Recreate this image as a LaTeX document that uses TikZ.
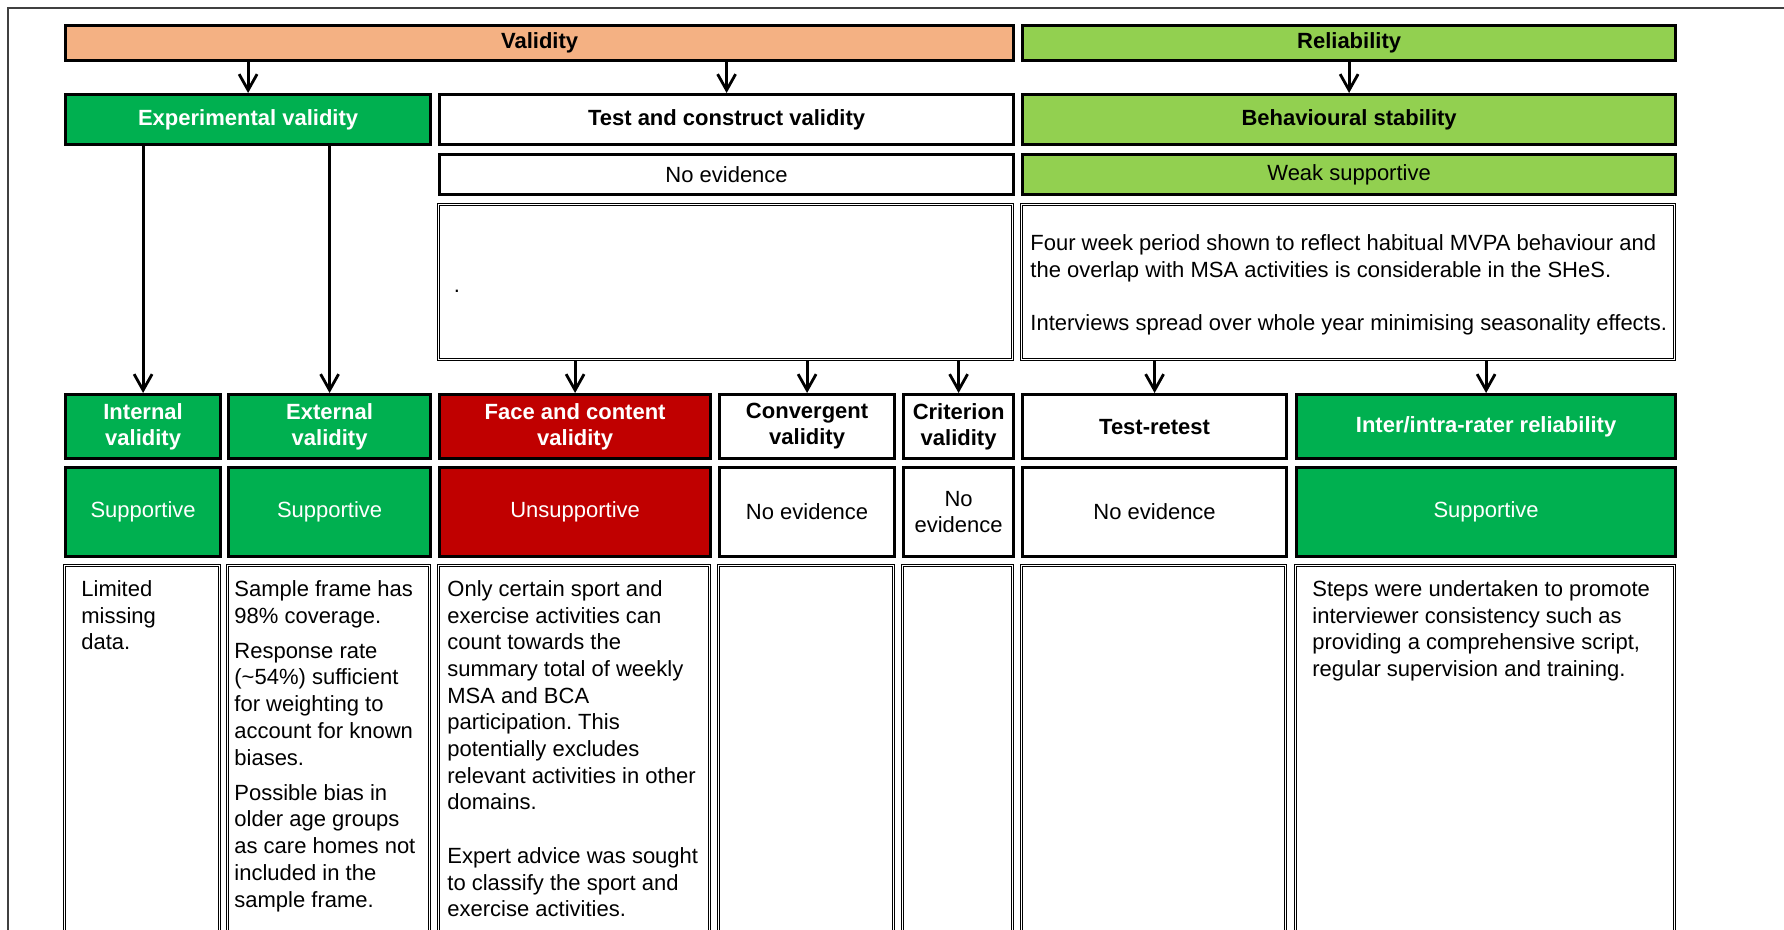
\documentclass[tikz,border=0pt]{standalone}
\usepackage{fontspec}
\setmainfont{Liberation Sans}
\usetikzlibrary{arrows.meta}
\frenchspacing

\definecolor{valorange}{HTML}{F4B183}
\definecolor{limegreen}{HTML}{92D050}
\definecolor{darkgreen}{HTML}{00B050}
\definecolor{darkred}{HTML}{C00000}
\definecolor{framegrey}{HTML}{404040}

\newcommand\bodyfont{\fontsize{11}{13.35}\selectfont}
\newcommand\headfont{\fontsize{11}{13}\selectfont\bfseries}

% name, style, left, top, right, bottom (in px units), text
\newcommand\gridcell[7]{%
  \pgfmathsetmacro\cellw{(#5-#3)/2}%
  \pgfmathsetmacro\cellh{(#6-#4)/2}%
  \node[#2, minimum width=\cellw pt, minimum height=\cellh pt, anchor=north west] (#1) at (#3,#4) {#7};%
}

\begin{document}
\begin{tikzpicture}[x=0.5pt, y=-0.5pt,
  cellbox/.style={draw=black, line width=1.6pt, inner sep=0pt, align=center, font=\bodyfont},
  headcell/.style={cellbox, font=\headfont},
  notebox/.style={draw=black, line width=0.55pt, double=white, double distance=0.45pt, inner sep=0pt},
  greencell/.style={fill=darkgreen, text=white},
  redcell/.style={fill=darkred, text=white},
  limecell/.style={fill=limegreen},
  orangecell/.style={fill=valorange},
  whitecell/.style={fill=white},
  notetext/.style={inner sep=0pt, align=left, font=\bodyfont, anchor=north west},
  arr/.style={line width=1.4pt, -{Straight Barb[length=8pt, width=9pt]}}
]
\useasboundingbox (0,0) rectangle (1784,930);
\clip (0,0) rectangle (1784,930);
\fill[white] (0,0) rectangle (1784,930);

% outer frame
\draw[framegrey, line width=0.6pt] (8,940) -- (8,8) -- (1800,8);

% top categories
\gridcell{val}{headcell, orangecell}{64}{24}{1012}{59}{Validity}
\gridcell{rel}{headcell, limecell}{1021}{24}{1674}{59}{Reliability}

% second level
\gridcell{exp}{headcell, greencell}{64}{93}{429}{143}{Experimental validity}
\gridcell{tcv}{headcell, whitecell}{438}{93}{1012}{143}{Test and construct validity}
\gridcell{beh}{headcell, limecell}{1021}{93}{1674}{143}{Behavioural stability}

% second level ratings
\gridcell{tcvev}{cellbox, whitecell}{438}{153}{1012}{193}{No evidence}
\gridcell{behev}{cellbox, limecell}{1021}{153}{1674}{193}{Weak supportive}

% second level notes
\gridcell{tcvnote}{notebox}{438}{204}{1012}{359}{}
\gridcell{behnote}{notebox}{1021}{204}{1674}{359}{}
\node[inner sep=0pt, font=\bodyfont] (tcvdot) at (457,291) {.};
\node[notetext, anchor=west] (behnotetxt) at ([xshift=4.5pt,yshift=-1.5pt]behnote.west)
  {Four week period shown to reflect habitual MVPA behaviour and\\
   the overlap with MSA activities is considerable in the SHeS.\\[13.35pt]
   Interviews spread over whole year minimising seasonality effects.};

% third level headers
\gridcell{int}{headcell, greencell}{64}{393}{219}{457}{Internal\\validity}
\gridcell{ext}{headcell, greencell}{227}{393}{429}{457}{External\\validity}
\gridcell{face}{headcell, redcell}{438}{393}{709}{457}{Face and content\\validity}
\gridcell{conv}{headcell, whitecell}{718}{393}{893}{457}{Convergent\\validity}
\gridcell{crit}{headcell, whitecell}{902}{393}{1012}{457}{Criterion\\validity}
\gridcell{trt}{headcell, whitecell}{1021}{393}{1285}{457}{Test-retest}
\gridcell{irr}{headcell, greencell}{1295}{393}{1674}{457}{Inter/intra-rater reliability}

% third level ratings
\gridcell{intr}{cellbox, greencell}{64}{466}{219}{555}{Supportive}
\gridcell{extr}{cellbox, greencell}{227}{466}{429}{555}{Supportive}
\gridcell{facer}{cellbox, redcell}{438}{466}{709}{555}{Unsupportive}
\gridcell{convr}{cellbox, whitecell}{718}{466}{893}{555}{No evidence}
\gridcell{critr}{cellbox, whitecell}{902}{466}{1012}{555}{No\\evidence}
\gridcell{trtr}{cellbox, whitecell}{1021}{466}{1285}{555}{No evidence}
\gridcell{irrr}{cellbox, greencell}{1295}{466}{1674}{555}{Supportive}

% third level notes
\gridcell{intn}{notebox}{64}{565}{219}{960}{}
\gridcell{extn}{notebox}{227}{565}{429}{960}{}
\gridcell{facen}{notebox}{438}{565}{709}{960}{}
\gridcell{convn}{notebox}{718}{565}{893}{960}{}
\gridcell{critn}{notebox}{902}{565}{1012}{960}{}
\gridcell{trtn}{notebox}{1021}{565}{1285}{960}{}
\gridcell{irrn}{notebox}{1295}{565}{1674}{960}{}

\node[notetext] (intt) at (81,580) {Limited\\missing\\data.};
\node[notetext] (extt) at (234,580)
  {Sample frame has\\98\% coverage.\\[4.25pt]
   Response rate\\(\textasciitilde54\%) sufficient\\for weighting to\\account for known\\biases.\\[4.25pt]
   Possible bias in\\older age groups\\as care homes not\\included in the\\sample frame.};
\node[notetext] (facet) at (447,580)
  {Only certain sport and\\exercise activities can\\count towards the\\summary total of weekly\\MSA and BCA\\participation. This\\potentially excludes\\relevant activities in other\\domains.\\[13.35pt]
   Expert advice was sought\\to classify the sport and\\exercise activities.};
\node[notetext] (irrt) at (1312,580)
  {Steps were undertaken to promote\\interviewer consistency such as\\providing a comprehensive script,\\regular supervision and training.};

% connectors
\draw[arr] (val.south -| exp.north) -- (exp.north);
\draw[arr] (val.south -| tcv.north) -- (tcv.north);
\draw[arr] (rel.south -| beh.north) -- (beh.north);
\draw[arr] (exp.south -| int.north) -- (int.north);
\draw[arr] (exp.south -| ext.north) -- (ext.north);
\draw[arr] (tcvnote.south -| face.north) -- (face.north);
\draw[arr] (tcvnote.south -| conv.north) -- (conv.north);
\draw[arr] (tcvnote.south -| crit.north) -- (crit.north);
\draw[arr] (behnote.south -| trt.north) -- (trt.north);
\draw[arr] (behnote.south -| irr.north) -- (irr.north);
\end{tikzpicture}
\end{document}
